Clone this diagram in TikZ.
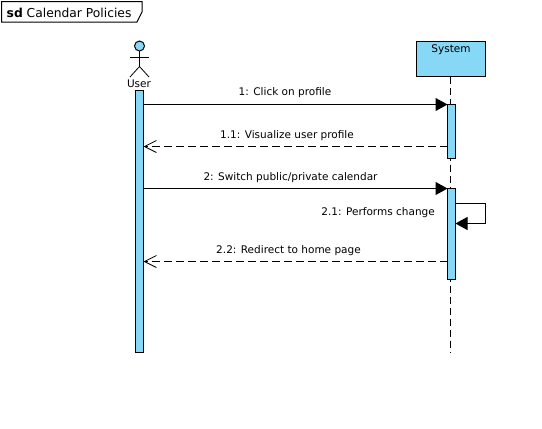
\documentclass[tikz,border=0pt]{standalone}
\usepackage{fontspec}
\setmainfont{DejaVu Sans}
\usetikzlibrary{arrows.meta, positioning}
\definecolor{lifeblue}{RGB}{135,216,247}

\tikzset{
  bar/.style={draw, fill=lifeblue, line width=1pt, minimum width=8pt, inner sep=0pt, outer sep=0pt},
  msg/.style={font=\fontsize{10.5}{12}\selectfont, inner sep=0pt},
  call/.style={-{Triangle[length=12pt,width=13pt]}, line width=1pt},
  reply/.style={-{Straight Barb[length=12pt,width=12pt]}, line width=0.8pt, dash pattern=on 8pt off 4pt},
  life/.style={line width=1pt, dash pattern=on 7pt off 4pt}
}

\begin{document}
\begin{tikzpicture}[x=1pt, y=-1pt, line join=miter]
  \useasboundingbox (0,0) rectangle (542,429);

  % frame
  \draw[line width=1pt] (1.5,1.5) -- (142,1.5) -- (142,12) -- (137,22) -- (1.5,22) -- cycle;
  \node[anchor=west, inner sep=0pt, font=\fontsize{12.3}{14}\selectfont] (frametitle) at (6.5,12.5) {\textbf{sd} Calendar Policies};

  % lifelines
  \coordinate (lifeend) at (450.5,353);
  \node[draw, fill=lifeblue, line width=1pt, minimum width=69pt, minimum height=35pt, inner sep=0pt, outer sep=0pt] (system) at (451,59) {};
  \node[msg, below=3pt of system.north] (systemname) {System};
  \draw[life] (system.south -| lifeend) -- (lifeend);

  % actor
  \node[circle, draw, fill=lifeblue, line width=1pt, minimum size=10pt, inner sep=0pt, outer sep=0pt] (head) at (139.5,46) {};
  \coordinate (hip) at (139.5,66.5);
  \draw[line width=0.8pt] (head.south) -- (hip);
  \draw[line width=0.8pt] (130,57) -- (149,57);
  \draw[line width=0.8pt] (130,77) -- (hip) -- (149,77);
  \node[msg, text=black] (username) at (139,83.5) {User};

  % activations
  \node[bar, minimum height=262pt] (userbar) at (139.5,221.5) {};
  \node[bar, minimum height=54pt] (sysbar1) at (451.5,131.5) {};
  \node[bar, minimum height=91pt] (sysbar2) at (451.5,234) {};

  % messages
  \coordinate (m1) at (0,104.5);
  \coordinate (m2) at (0,146.5);
  \coordinate (m3) at (0,188.5);
  \coordinate (m4) at (0,261.5);
  \draw[call] (userbar.east |- m1) -- (sysbar1.west |- m1);
  \draw[reply] (sysbar1.west |- m2) -- (userbar.east |- m2);
  \draw[call] (userbar.east |- m3) -- (sysbar2.west |- m3);
  \draw[reply] (sysbar2.west |- m4) -- (userbar.east |- m4);

  % self call
  \coordinate (s1) at (0,203.5);
  \coordinate (s2) at (0,223.5);
  \coordinate (sr) at (485.5,0);
  \draw[call] (sysbar2.east |- s1) -- (sr |- s1) -- (sr |- s2) -- (sysbar2.east |- s2);

  \node[msg] (l1) at (285,93) {1: Click on profile};
  \node[msg] (l2) at (287,135.5) {1.1: Visualize user profile};
  \node[msg] (l3) at (290.5,177.5) {2: Switch public/private calendar};
  \node[msg, anchor=east] (l4) at (435,213) {2.1: Performs change};
  \node[msg] (l5) at (288.5,250.5) {2.2: Redirect to home page};
\end{tikzpicture}
\end{document}
